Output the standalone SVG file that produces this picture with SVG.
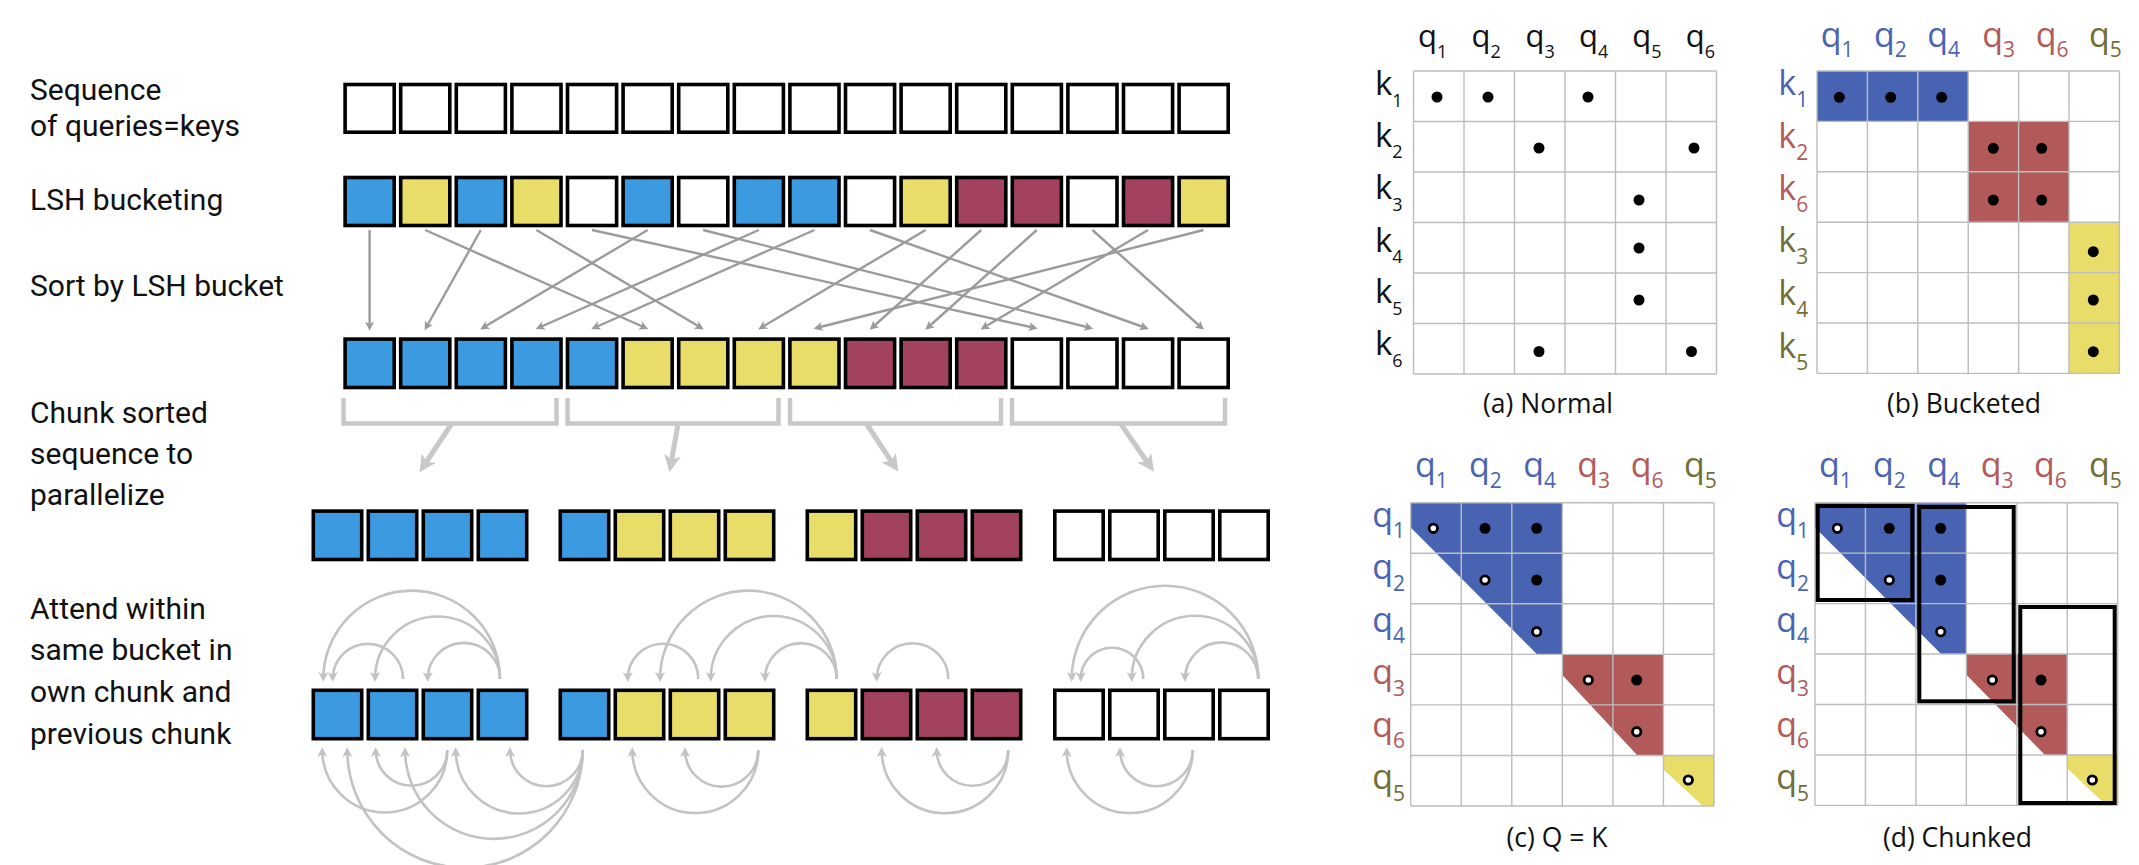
<svg xmlns="http://www.w3.org/2000/svg" width="2139" height="865" viewBox="0 0 2139 865">
<defs>
<style>
.lbl{font-family:Roboto,"Liberation Sans",sans-serif;font-size:30px;fill:#111}
.bx{stroke:#000;stroke-width:3.6}
.b{fill:#3c9be0}.y{fill:#e8dd68}.r{fill:#a2425f}.w{fill:#fff}
.sa{stroke:#9b9b9b;stroke-width:2.4;fill:none;marker-end:url(#ah)}
.arc{stroke:#c3c3c3;stroke-width:2.6;fill:none;marker-end:url(#ah2)}
.br{stroke:#c8c8c8;stroke-width:4.5;fill:none}
.ca{stroke:#c8c8c8;stroke-width:5;fill:none;marker-end:url(#ah3)}
.grid{stroke:#bdbdbd;stroke-width:1.4;fill:none}
.mt{font-family:"Open Sans","Noto Sans",sans-serif;fill:#111}
.ma{font-size:31px}.mk{font-size:33px}.mb{font-size:34px}
.cap{font-family:"Open Sans","Noto Sans",sans-serif;font-size:26.5px;fill:#111;text-anchor:middle}
.cb{fill:#4a64b4}.cr{fill:#b35a5a}.co{fill:#6f6f37}
.fb{fill:#4863b1}.fr{fill:#b25a5a}.fy{fill:#e8dd68}
.od{fill:#fff;stroke:#000;stroke-width:2.8}
.chk{fill:none;stroke:#000;stroke-width:4}
</style>
<marker id="ah" viewBox="0 0 10 10" refX="7" refY="5" markerWidth="10" markerHeight="9" markerUnits="userSpaceOnUse" orient="auto"><path d="M0,0 L10,5 L0,10 L2.5,5 z" fill="#9b9b9b"/></marker>
<marker id="ah2" viewBox="0 0 10 10" refX="7" refY="5" markerWidth="11" markerHeight="10" markerUnits="userSpaceOnUse" orient="auto"><path d="M0,0 L10,5 L0,10 L2.5,5 z" fill="#c3c3c3"/></marker>
<marker id="ah3" viewBox="0 0 10 10" refX="7" refY="5" markerWidth="19" markerHeight="17" markerUnits="userSpaceOnUse" orient="auto"><path d="M0,0 L10,5 L0,10 L2.5,5 z" fill="#c8c8c8"/></marker>
</defs>
<rect width="2139" height="865" fill="#fff"/>

<g id="labels-left">
<text class="lbl" x="30" y="99.5">Sequence</text>
<text class="lbl" x="30" y="135.5">of queries=keys</text>
<text class="lbl" x="30" y="210">LSH bucketing</text>
<text class="lbl" x="30" y="295.5">Sort by LSH bucket</text>
<text class="lbl" x="30" y="422.5">Chunk sorted</text>
<text class="lbl" x="30" y="464">sequence to</text>
<text class="lbl" x="30" y="505">parallelize</text>
<text class="lbl" x="30" y="619">Attend within</text>
<text class="lbl" x="30" y="660">same bucket in</text>
<text class="lbl" x="30" y="702">own chunk and</text>
<text class="lbl" x="30" y="743.5">previous chunk</text>
</g>

<g id="row-sequence">
<rect class="bx w" x="345.1" y="84.5" width="49.1" height="47.7"/>
<rect class="bx w" x="400.7" y="84.5" width="49.1" height="47.7"/>
<rect class="bx w" x="456.3" y="84.5" width="49.1" height="47.7"/>
<rect class="bx w" x="511.9" y="84.5" width="49.1" height="47.7"/>
<rect class="bx w" x="567.5" y="84.5" width="49.1" height="47.7"/>
<rect class="bx w" x="623.1" y="84.5" width="49.1" height="47.7"/>
<rect class="bx w" x="678.7" y="84.5" width="49.1" height="47.7"/>
<rect class="bx w" x="734.3" y="84.5" width="49.1" height="47.7"/>
<rect class="bx w" x="789.9" y="84.5" width="49.1" height="47.7"/>
<rect class="bx w" x="845.5" y="84.5" width="49.1" height="47.7"/>
<rect class="bx w" x="901.1" y="84.5" width="49.1" height="47.7"/>
<rect class="bx w" x="956.7" y="84.5" width="49.1" height="47.7"/>
<rect class="bx w" x="1012.3" y="84.5" width="49.1" height="47.7"/>
<rect class="bx w" x="1067.9" y="84.5" width="49.1" height="47.7"/>
<rect class="bx w" x="1123.5" y="84.5" width="49.1" height="47.7"/>
<rect class="bx w" x="1179.1" y="84.5" width="49.1" height="47.7"/>
</g>

<g id="row-lsh">
<rect class="bx b" x="345.1" y="177.5" width="49.1" height="48"/>
<rect class="bx y" x="400.7" y="177.5" width="49.1" height="48"/>
<rect class="bx b" x="456.3" y="177.5" width="49.1" height="48"/>
<rect class="bx y" x="511.9" y="177.5" width="49.1" height="48"/>
<rect class="bx w" x="567.5" y="177.5" width="49.1" height="48"/>
<rect class="bx b" x="623.1" y="177.5" width="49.1" height="48"/>
<rect class="bx w" x="678.7" y="177.5" width="49.1" height="48"/>
<rect class="bx b" x="734.3" y="177.5" width="49.1" height="48"/>
<rect class="bx b" x="789.9" y="177.5" width="49.1" height="48"/>
<rect class="bx w" x="845.5" y="177.5" width="49.1" height="48"/>
<rect class="bx y" x="901.1" y="177.5" width="49.1" height="48"/>
<rect class="bx r" x="956.7" y="177.5" width="49.1" height="48"/>
<rect class="bx r" x="1012.3" y="177.5" width="49.1" height="48"/>
<rect class="bx w" x="1067.9" y="177.5" width="49.1" height="48"/>
<rect class="bx r" x="1123.5" y="177.5" width="49.1" height="48"/>
<rect class="bx y" x="1179.1" y="177.5" width="49.1" height="48"/>
</g>

<g id="row-sorted">
<rect class="bx b" x="345.1" y="339.1" width="49.1" height="48.4"/>
<rect class="bx b" x="400.7" y="339.1" width="49.1" height="48.4"/>
<rect class="bx b" x="456.3" y="339.1" width="49.1" height="48.4"/>
<rect class="bx b" x="511.9" y="339.1" width="49.1" height="48.4"/>
<rect class="bx b" x="567.5" y="339.1" width="49.1" height="48.4"/>
<rect class="bx y" x="623.1" y="339.1" width="49.1" height="48.4"/>
<rect class="bx y" x="678.7" y="339.1" width="49.1" height="48.4"/>
<rect class="bx y" x="734.3" y="339.1" width="49.1" height="48.4"/>
<rect class="bx y" x="789.9" y="339.1" width="49.1" height="48.4"/>
<rect class="bx r" x="845.5" y="339.1" width="49.1" height="48.4"/>
<rect class="bx r" x="901.1" y="339.1" width="49.1" height="48.4"/>
<rect class="bx r" x="956.7" y="339.1" width="49.1" height="48.4"/>
<rect class="bx w" x="1012.3" y="339.1" width="49.1" height="48.4"/>
<rect class="bx w" x="1067.9" y="339.1" width="49.1" height="48.4"/>
<rect class="bx w" x="1123.5" y="339.1" width="49.1" height="48.4"/>
<rect class="bx w" x="1179.1" y="339.1" width="49.1" height="48.4"/>
</g>

<g id="row-chunks">
<rect class="bx b" x="313.3" y="511.1" width="48.4" height="48.4"/>
<rect class="bx b" x="368.3" y="511.1" width="48.4" height="48.4"/>
<rect class="bx b" x="423.3" y="511.1" width="48.4" height="48.4"/>
<rect class="bx b" x="478.3" y="511.1" width="48.4" height="48.4"/>
<rect class="bx b" x="560.3" y="511.1" width="48.4" height="48.4"/>
<rect class="bx y" x="615.3" y="511.1" width="48.4" height="48.4"/>
<rect class="bx y" x="670.3" y="511.1" width="48.4" height="48.4"/>
<rect class="bx y" x="725.3" y="511.1" width="48.4" height="48.4"/>
<rect class="bx y" x="807.3" y="511.1" width="48.4" height="48.4"/>
<rect class="bx r" x="862.3" y="511.1" width="48.4" height="48.4"/>
<rect class="bx r" x="917.3" y="511.1" width="48.4" height="48.4"/>
<rect class="bx r" x="972.3" y="511.1" width="48.4" height="48.4"/>
<rect class="bx w" x="1054.8" y="511.1" width="48.4" height="48.4"/>
<rect class="bx w" x="1109.8" y="511.1" width="48.4" height="48.4"/>
<rect class="bx w" x="1164.8" y="511.1" width="48.4" height="48.4"/>
<rect class="bx w" x="1219.8" y="511.1" width="48.4" height="48.4"/>
</g>

<g id="row-attend">
<rect class="bx b" x="313.3" y="690.3" width="48.4" height="48.4"/>
<rect class="bx b" x="368.3" y="690.3" width="48.4" height="48.4"/>
<rect class="bx b" x="423.3" y="690.3" width="48.4" height="48.4"/>
<rect class="bx b" x="478.3" y="690.3" width="48.4" height="48.4"/>
<rect class="bx b" x="560.3" y="690.3" width="48.4" height="48.4"/>
<rect class="bx y" x="615.3" y="690.3" width="48.4" height="48.4"/>
<rect class="bx y" x="670.3" y="690.3" width="48.4" height="48.4"/>
<rect class="bx y" x="725.3" y="690.3" width="48.4" height="48.4"/>
<rect class="bx y" x="807.3" y="690.3" width="48.4" height="48.4"/>
<rect class="bx r" x="862.3" y="690.3" width="48.4" height="48.4"/>
<rect class="bx r" x="917.3" y="690.3" width="48.4" height="48.4"/>
<rect class="bx r" x="972.3" y="690.3" width="48.4" height="48.4"/>
<rect class="bx w" x="1054.8" y="690.3" width="48.4" height="48.4"/>
<rect class="bx w" x="1109.8" y="690.3" width="48.4" height="48.4"/>
<rect class="bx w" x="1164.8" y="690.3" width="48.4" height="48.4"/>
<rect class="bx w" x="1219.8" y="690.3" width="48.4" height="48.4"/>
</g>

<g id="connectors">
<path class="sa" d="M369.6,230 L369.6,328"/>
<path class="sa" d="M480.8,230 L425.9,328"/>
<path class="sa" d="M647.6,230 L482.5,328"/>
<path class="sa" d="M758.8,230 L538.2,328"/>
<path class="sa" d="M814.4,230 L593.8,328"/>
<path class="sa" d="M425.2,230 L645.8,328"/>
<path class="sa" d="M536.4,230 L701.5,328"/>
<path class="sa" d="M925.6,230 L760.5,328"/>
<path class="sa" d="M1203.6,230 L816.3,328"/>
<path class="sa" d="M981.2,230 L871.7,328"/>
<path class="sa" d="M1036.8,230 L927.3,328"/>
<path class="sa" d="M1148,230 L982.9,328"/>
<path class="sa" d="M592,230 L1035,328"/>
<path class="sa" d="M703.2,230 L1090.6,328"/>
<path class="sa" d="M870,230 L1146.2,328"/>
<path class="sa" d="M1092.4,230 L1201.9,328"/>

<path class="br" d="M343.5,398 V423.5 H556.5 V398"/>
<path class="br" d="M567.5,398 V423.5 H778.5 V398"/>
<path class="br" d="M790,398 V423.5 H1001 V398"/>
<path class="br" d="M1012,398 V423.5 H1225 V398"/>
<path class="ca" d="M451.5,424 L422.3,468"/>
<path class="ca" d="M678,424 L670.4,467"/>
<path class="ca" d="M866.6,424 L895.4,467.5"/>
<path class="ca" d="M1120.8,424 L1151,467.5"/>

<path class="arc" d="M500,679 A88.35,88.35 0 0 0 323.3,679"/>
<path class="arc" d="M500,679 A62.5,62.5 0 0 0 375,679"/>
<path class="arc" d="M500,679 A36.15,36.15 0 0 0 427.7,679"/>
<path class="arc" d="M403,679 A35.15,35.15 0 0 0 332.7,679"/>
<path class="arc" d="M698.3,679 A35.3,35.3 0 0 0 627.7,679"/>
<path class="arc" d="M836.7,679 A88.35,88.35 0 0 0 660,679"/>
<path class="arc" d="M836.7,679 A63,63 0 0 0 710.7,679"/>
<path class="arc" d="M836.7,679 A35.85,35.85 0 0 0 765,679"/>
<path class="arc" d="M948.3,679 A35.8,35.8 0 0 0 876.7,679"/>
<path class="arc" d="M1258.3,679 A93.3,93.3 0 0 0 1071.7,679"/>
<path class="arc" d="M1258.3,679 A63.3,63.3 0 0 0 1131.7,679"/>
<path class="arc" d="M1258.3,679 A36.65,36.65 0 0 0 1185,679"/>
<path class="arc" d="M1143.3,679 A31.3,31.3 0 0 0 1080.7,679"/>

<path class="arc" d="M447.3,750 A35.8,35.8 0 0 1 375.7,750"/>
<path class="arc" d="M447.3,750 A62.5,62.5 0 0 1 322.3,750"/>
<path class="arc" d="M582.7,750 A36.35,36.35 0 0 1 510,750"/>
<path class="arc" d="M582.7,750 A63.5,63.5 0 0 1 455.7,750"/>
<path class="arc" d="M582.7,750 A88.85,88.85 0 0 1 405,750"/>
<path class="arc" d="M582.7,750 A117.7,117.7 0 0 1 347.3,750"/>
<path class="arc" d="M758.3,750 A36.65,36.65 0 0 1 685,750"/>
<path class="arc" d="M758.3,750 A63,63 0 0 1 632.3,750"/>
<path class="arc" d="M1008.3,750 A35.8,35.8 0 0 1 936.7,750"/>
<path class="arc" d="M1008.3,750 A63.3,63.3 0 0 1 881.7,750"/>
<path class="arc" d="M1192.7,750 A36.35,36.35 0 0 1 1120,750"/>
<path class="arc" d="M1192.7,750 A63,63 0 0 1 1066.7,750"/>
</g>

<g id="matrix-a">
<path class="grid" d="M1413.5,71V374M1464,71V374M1514.5,71V374M1565,71V374M1615.5,71V374M1666,71V374M1716.5,71V374M1413.5,71H1716.5M1413.5,121.5H1716.5M1413.5,172H1716.5M1413.5,222.5H1716.5M1413.5,273H1716.5M1413.5,323.5H1716.5M1413.5,374H1716.5"/>
<g fill="#000">
<circle cx="1437" cy="97" r="5.5"/><circle cx="1488" cy="97" r="5.5"/><circle cx="1588" cy="97" r="5.5"/>
<circle cx="1539" cy="148" r="5.5"/><circle cx="1694" cy="148" r="5.5"/>
<circle cx="1639" cy="200" r="5.5"/><circle cx="1639" cy="248" r="5.5"/><circle cx="1639" cy="300" r="5.5"/>
<circle cx="1539" cy="351.5" r="5.5"/><circle cx="1691.5" cy="351.5" r="5.5"/>
</g>
<g class="mt ma">
<text x="1418" y="46.5">q<tspan dy="11" font-size="18">1</tspan></text>
<text x="1471.5" y="46.5">q<tspan dy="11" font-size="18">2</tspan></text>
<text x="1525.5" y="46.5">q<tspan dy="11" font-size="18">3</tspan></text>
<text x="1579" y="46.5">q<tspan dy="11" font-size="18">4</tspan></text>
<text x="1632.3" y="46.5">q<tspan dy="11" font-size="18">5</tspan></text>
<text x="1685.7" y="46.5">q<tspan dy="11" font-size="18">6</tspan></text>
</g>
<g class="mt mk">
<text x="1375" y="95">k<tspan dy="11.5" font-size="18">1</tspan></text>
<text x="1375" y="146.7">k<tspan dy="11.5" font-size="18">2</tspan></text>
<text x="1375" y="199.3">k<tspan dy="11.5" font-size="18">3</tspan></text>
<text x="1375" y="251.7">k<tspan dy="11.5" font-size="18">4</tspan></text>
<text x="1375" y="303.3">k<tspan dy="11.5" font-size="18">5</tspan></text>
<text x="1375" y="355">k<tspan dy="11.5" font-size="18">6</tspan></text>
</g>
<text class="cap" x="1548" y="413">(a) Normal</text>
</g>

<g id="matrix-b">
<rect class="fb" x="1817" y="71" width="151.2" height="50.4"/>
<rect class="fr" x="1968.2" y="121.4" width="100.8" height="100.8"/>
<rect class="fy" x="2069" y="222.2" width="50.4" height="151.2"/>
<path class="grid" d="M1817,71V373.4M1867.4,71V373.4M1917.8,71V373.4M1968.2,71V373.4M2018.6,71V373.4M2069,71V373.4M2119.4,71V373.4M1817,71H2119.4M1817,121.4H2119.4M1817,171.8H2119.4M1817,222.2H2119.4M1817,272.6H2119.4M1817,323H2119.4M1817,373.4H2119.4"/>
<g fill="#000">
<circle cx="1839.3" cy="97.3" r="5.5"/><circle cx="1890.7" cy="97.3" r="5.5"/><circle cx="1941.7" cy="97.3" r="5.5"/>
<circle cx="1993.3" cy="148.3" r="5.5"/><circle cx="2041.7" cy="148.3" r="5.5"/>
<circle cx="1993.3" cy="200" r="5.5"/><circle cx="2041.7" cy="200" r="5.5"/>
<circle cx="2093.3" cy="251.7" r="5.5"/><circle cx="2093.3" cy="300" r="5.5"/><circle cx="2093.3" cy="351.7" r="5.5"/>
</g>
<g class="mt mb">
<text class="cb" x="1820.7" y="46.7">q<tspan dy="10.6" font-size="21">1</tspan></text>
<text class="cb" x="1874" y="46.7">q<tspan dy="10.6" font-size="21">2</tspan></text>
<text class="cb" x="1927.3" y="46.7">q<tspan dy="10.6" font-size="21">4</tspan></text>
<text class="cr" x="1982.3" y="46.7">q<tspan dy="10.6" font-size="21">3</tspan></text>
<text class="cr" x="2035.7" y="46.7">q<tspan dy="10.6" font-size="21">6</tspan></text>
<text class="co" x="2089" y="46.7">q<tspan dy="10.6" font-size="21">5</tspan></text>
<text class="cb" x="1778.3" y="95">k<tspan dy="12" font-size="21">1</tspan></text>
<text class="cr" x="1778.3" y="148.3">k<tspan dy="12" font-size="21">2</tspan></text>
<text class="cr" x="1778.3" y="200">k<tspan dy="12" font-size="21">6</tspan></text>
<text class="co" x="1778.3" y="252.3">k<tspan dy="12" font-size="21">3</tspan></text>
<text class="co" x="1778.3" y="305">k<tspan dy="12" font-size="21">4</tspan></text>
<text class="co" x="1778.3" y="358.3">k<tspan dy="12" font-size="21">5</tspan></text>
</g>
<text class="cap" x="1964" y="413">(b) Bucketed</text>
</g>

<g id="matrix-c">
<polygon class="fb" points="1410.7,502.7 1562.35,502.7 1562.35,654.35 1537.1,654.35 1410.7,527.5"/>
<polygon class="fr" points="1562.35,654.35 1663.45,654.35 1663.45,755.45 1637.5,755.45 1562.35,675"/>
<polygon class="fy" points="1663.45,755.45 1714,755.45 1714,806 1702.9,806 1663.45,769.6"/>
<path class="grid" d="M1410.7,502.7V806M1461.25,502.7V806M1511.8,502.7V806M1562.35,502.7V806M1612.9,502.7V806M1663.45,502.7V806M1714,502.7V806M1410.7,502.7H1714M1410.7,553.25H1714M1410.7,603.8H1714M1410.7,654.35H1714M1410.7,704.9H1714M1410.7,755.45H1714M1410.7,806H1714"/>
<g fill="#000">
<circle cx="1485" cy="528.3" r="5.5"/><circle cx="1536.7" cy="528.3" r="5.5"/><circle cx="1536.7" cy="580" r="5.5"/><circle cx="1636.7" cy="680" r="5.5"/>
</g>
<g class="od">
<circle cx="1433.3" cy="528.3" r="4.2"/><circle cx="1485" cy="580" r="4.2"/><circle cx="1536.7" cy="631.7" r="4.2"/><circle cx="1588.3" cy="680" r="4.2"/><circle cx="1636.7" cy="731.7" r="4.2"/><circle cx="1688.3" cy="780" r="4.2"/>
</g>
<g class="mt mb">
<text class="cb" x="1415" y="476.7">q<tspan dy="11.5" font-size="21">1</tspan></text>
<text class="cb" x="1469" y="476.7">q<tspan dy="11.5" font-size="21">2</tspan></text>
<text class="cb" x="1523.3" y="476.7">q<tspan dy="11.5" font-size="21">4</tspan></text>
<text class="cr" x="1577.3" y="476.7">q<tspan dy="11.5" font-size="21">3</tspan></text>
<text class="cr" x="1630.7" y="476.7">q<tspan dy="11.5" font-size="21">6</tspan></text>
<text class="co" x="1684" y="476.7">q<tspan dy="11.5" font-size="21">5</tspan></text>
<text class="cb" x="1372.3" y="526.8">q<tspan dy="11.5" font-size="21">1</tspan></text>
<text class="cb" x="1372.3" y="579.3">q<tspan dy="11.5" font-size="21">2</tspan></text>
<text class="cb" x="1372.3" y="631.8">q<tspan dy="11.5" font-size="21">4</tspan></text>
<text class="cr" x="1372.3" y="684.3">q<tspan dy="11.5" font-size="21">3</tspan></text>
<text class="cr" x="1372.3" y="736.8">q<tspan dy="11.5" font-size="21">6</tspan></text>
<text class="co" x="1372.3" y="789.3">q<tspan dy="11.5" font-size="21">5</tspan></text>
</g>
<text class="cap" x="1557" y="846.5">(c) Q = K</text>
</g>

<g id="matrix-d">
<polygon class="fb" points="1815,502.7 1966.35,502.7 1966.35,654.05 1941.1,654.05 1815,527.4"/>
<polygon class="fr" points="1966.35,654.05 2067.25,654.05 2067.25,754.95 2045,754.95 1966.35,674.7"/>
<polygon class="fy" points="2067.25,754.95 2117.7,754.95 2117.7,805.4 2106.3,805.4 2067.25,768.3"/>
<path class="grid" d="M1815,502.7V805.4M1865.45,502.7V805.4M1915.9,502.7V805.4M1966.35,502.7V805.4M2016.8,502.7V805.4M2067.25,502.7V805.4M2117.7,502.7V805.4M1815,502.7H2117.7M1815,553.15H2117.7M1815,603.6H2117.7M1815,654.05H2117.7M1815,704.5H2117.7M1815,754.95H2117.7M1815,805.4H2117.7"/>
<rect class="chk" x="1817.7" y="506" width="94.6" height="94"/>
<rect class="chk" x="1919.3" y="507" width="94.4" height="194.3"/>
<rect class="chk" x="2020.3" y="607" width="94.4" height="196"/>
<g fill="#000">
<circle cx="1889.3" cy="528.3" r="5.5"/><circle cx="1940.7" cy="528.3" r="5.5"/><circle cx="1940.7" cy="580" r="5.5"/><circle cx="2041" cy="680" r="5.5"/>
</g>
<g class="od">
<circle cx="1837.3" cy="528.3" r="4.2"/><circle cx="1889.3" cy="580" r="4.2"/><circle cx="1940.7" cy="631.7" r="4.2"/><circle cx="1992.3" cy="680" r="4.2"/><circle cx="2041" cy="731.7" r="4.2"/><circle cx="2092.3" cy="780" r="4.2"/>
</g>
<g class="mt mb">
<text class="cb" x="1819" y="476.7">q<tspan dy="11.5" font-size="21">1</tspan></text>
<text class="cb" x="1873" y="476.7">q<tspan dy="11.5" font-size="21">2</tspan></text>
<text class="cb" x="1927.3" y="476.7">q<tspan dy="11.5" font-size="21">4</tspan></text>
<text class="cr" x="1980.7" y="476.7">q<tspan dy="11.5" font-size="21">3</tspan></text>
<text class="cr" x="2034" y="476.7">q<tspan dy="11.5" font-size="21">6</tspan></text>
<text class="co" x="2089" y="476.7">q<tspan dy="11.5" font-size="21">5</tspan></text>
<text class="cb" x="1776.3" y="526.8">q<tspan dy="11.5" font-size="21">1</tspan></text>
<text class="cb" x="1776.3" y="579.3">q<tspan dy="11.5" font-size="21">2</tspan></text>
<text class="cb" x="1776.3" y="631.8">q<tspan dy="11.5" font-size="21">4</tspan></text>
<text class="cr" x="1776.3" y="684.3">q<tspan dy="11.5" font-size="21">3</tspan></text>
<text class="cr" x="1776.3" y="736.8">q<tspan dy="11.5" font-size="21">6</tspan></text>
<text class="co" x="1776.3" y="789.3">q<tspan dy="11.5" font-size="21">5</tspan></text>
</g>
<text class="cap" x="1957.5" y="846.5">(d) Chunked</text>
</g>
</svg>
